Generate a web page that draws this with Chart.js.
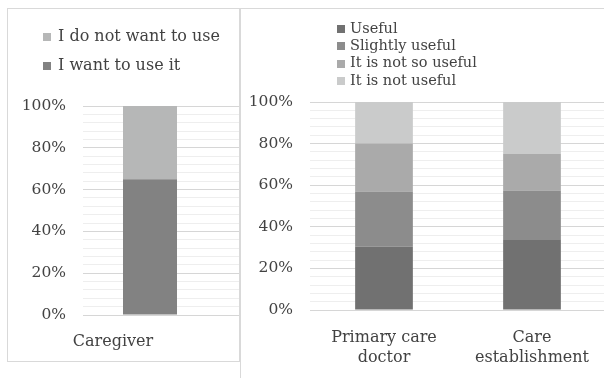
<!DOCTYPE html>
<html>
<head>
<meta charset="utf-8">
<script src="https://cdn.jsdelivr.net/npm/chart.js@4/dist/chart.umd.min.js"></script>
<style>
  html, body { margin: 0; padding: 0; width: 604px; height: 378px; overflow: hidden; background: #fff; }
  .panel { position: absolute; border: 1px solid #d9d9d9; box-sizing: border-box; }
  canvas { position: absolute; left: 0; top: 0; }
</style>
</head>
<body>
<div class="panel" style="left:7px; top:8px; width:233px; height:354px;"></div>
<div class="panel" style="left:240px; top:8px; width:420px; height:420px;"></div>
<canvas id="useChart" width="240" height="378"></canvas>
<canvas id="helpChart" width="640" height="378"></canvas>
<script>
// Intention to use (caregivers)
const useCategories = ['Caregiver'];
const wantToUse = [65];
const doNotWantToUse = [35];

// Perceived usefulness, by respondent group
const helpCategories = [['Primary care', 'doctor'], ['Care', 'establishment']];
const useful = [30.5, 34];
const slightlyUseful = [26.5, 23.5];
const notSoUseful = [23, 17.5];
const notUseful = [20, 25];

// y axis: 0–100 % with a light line every 4 %, labels every 20 %
const percentMax = 100;
const minorStep = 4;
const labelStep = 20;

const TEXT = '#424242';
const FAMILY = '"DejaVu Serif", serif';
Chart.defaults.font.family = FAMILY;
Chart.defaults.color = TEXT;

const gridColor = v => (v % labelStep === 0 ? '#d6d6d6' : '#eeeeee');

// Legend stacked one item per row, at a fixed spot above the plot
const stackLegend = {
  id: 'stackLegend',
  afterDraw(chart, args, opts) {
    const ctx = chart.ctx;
    const items = chart.data.datasets.map(ds => ({ text: ds.label, color: ds.backgroundColor }));
    if (opts.reverse) items.reverse();
    ctx.save();
    ctx.font = opts.font;
    ctx.textBaseline = 'middle';
    ctx.textAlign = 'left';
    items.forEach((it, i) => {
      const y = opts.y + i * opts.rowGap;
      ctx.fillStyle = it.color;
      ctx.fillRect(opts.x, Math.round(y - opts.box / 2), opts.box, opts.box);
      ctx.fillStyle = TEXT;
      ctx.fillText(it.text, opts.textX, y);
    });
    ctx.restore();
  }
};

// Carry the horizontal grid lines on past the plot's right edge
const gridExtend = {
  id: 'gridExtend',
  beforeDatasetsDraw(chart, args, opts) {
    if (!opts.to) return;
    const ys = chart.scales.y, area = chart.chartArea, ctx = chart.ctx;
    ctx.save();
    ctx.lineWidth = 1;
    ys.ticks.forEach(t => {
      const py = Math.round(ys.getPixelForValue(t.value) - 0.5) + 0.5;
      ctx.strokeStyle = gridColor(t.value);
      ctx.beginPath();
      ctx.moveTo(area.right, py);
      ctx.lineTo(opts.to, py);
      ctx.stroke();
    });
    ctx.restore();
  }
};

function scales(xHeight, xPad, xLabelOffset) {
  return {
    x: {
      stacked: true,
      grid: { display: false },
      border: { display: false },
      ticks: { padding: xPad, labelOffset: xLabelOffset, maxRotation: 0, autoSkip: false,
               font: { size: 16, lineHeight: 1.3 }, color: TEXT },
      afterFit: s => { s.height = xHeight; }
    },
    y: {
      stacked: true,
      min: 0,
      max: percentMax,
      border: { display: false },
      grid: { drawTicks: false, color: c => gridColor(c.tick.value) },
      ticks: { stepSize: minorStep, autoSkip: false, padding: 17,
               font: { size: 15.5 }, color: TEXT,
               callback: v => (v % labelStep === 0 ? v + '%' : '') },
      afterFit: s => { s.width = 70; }
    }
  };
}

new Chart(document.getElementById('useChart'), {
  type: 'bar',
  data: {
    labels: useCategories,
    datasets: [
      { label: 'I want to use it', data: wantToUse, backgroundColor: '#828282' },
      { label: 'I do not want to use', data: doNotWantToUse, backgroundColor: '#b6b7b7' }
    ]
  },
  options: {
    responsive: false,
    animation: false,
    events: [],
    datasets: { bar: { categoryPercentage: 1, barPercentage: 0.403, borderWidth: 0 } },
    layout: { padding: { left: 13, right: 23, top: 106, bottom: 0 } },
    scales: scales(63, 8, -37),
    plugins: {
      legend: { display: false },
      tooltip: { enabled: false },
      stackLegend: { reverse: true, x: 43, textX: 58, y: 36.5, rowGap: 29, box: 8, font: '16px ' + FAMILY },
      gridExtend: { to: 239 }
    }
  },
  plugins: [gridExtend, stackLegend]
});

new Chart(document.getElementById('helpChart'), {
  type: 'bar',
  data: {
    labels: helpCategories,
    datasets: [
      { label: 'Useful', data: useful, backgroundColor: '#717171' },
      { label: 'Slightly useful', data: slightlyUseful, backgroundColor: '#8c8c8c' },
      { label: 'It is not so useful', data: notSoUseful, backgroundColor: '#aaaaaa' },
      { label: 'It is not useful', data: notUseful, backgroundColor: '#cacbcb' }
    ]
  },
  options: {
    responsive: false,
    animation: false,
    events: [],
    datasets: { bar: { categoryPercentage: 1, barPercentage: 0.39, borderWidth: 0 } },
    layout: { padding: { left: 240, right: 34, top: 102, bottom: 0 } },
    scales: scales(68, 9, 0),
    plugins: {
      legend: { display: false },
      tooltip: { enabled: false },
      stackLegend: { reverse: false, x: 337, textX: 350, y: 29, rowGap: 17.3, box: 8, font: '14.5px ' + FAMILY },
      gridExtend: { to: 0 }
    }
  },
  plugins: [gridExtend, stackLegend]
});
</script>
</body>
</html>
